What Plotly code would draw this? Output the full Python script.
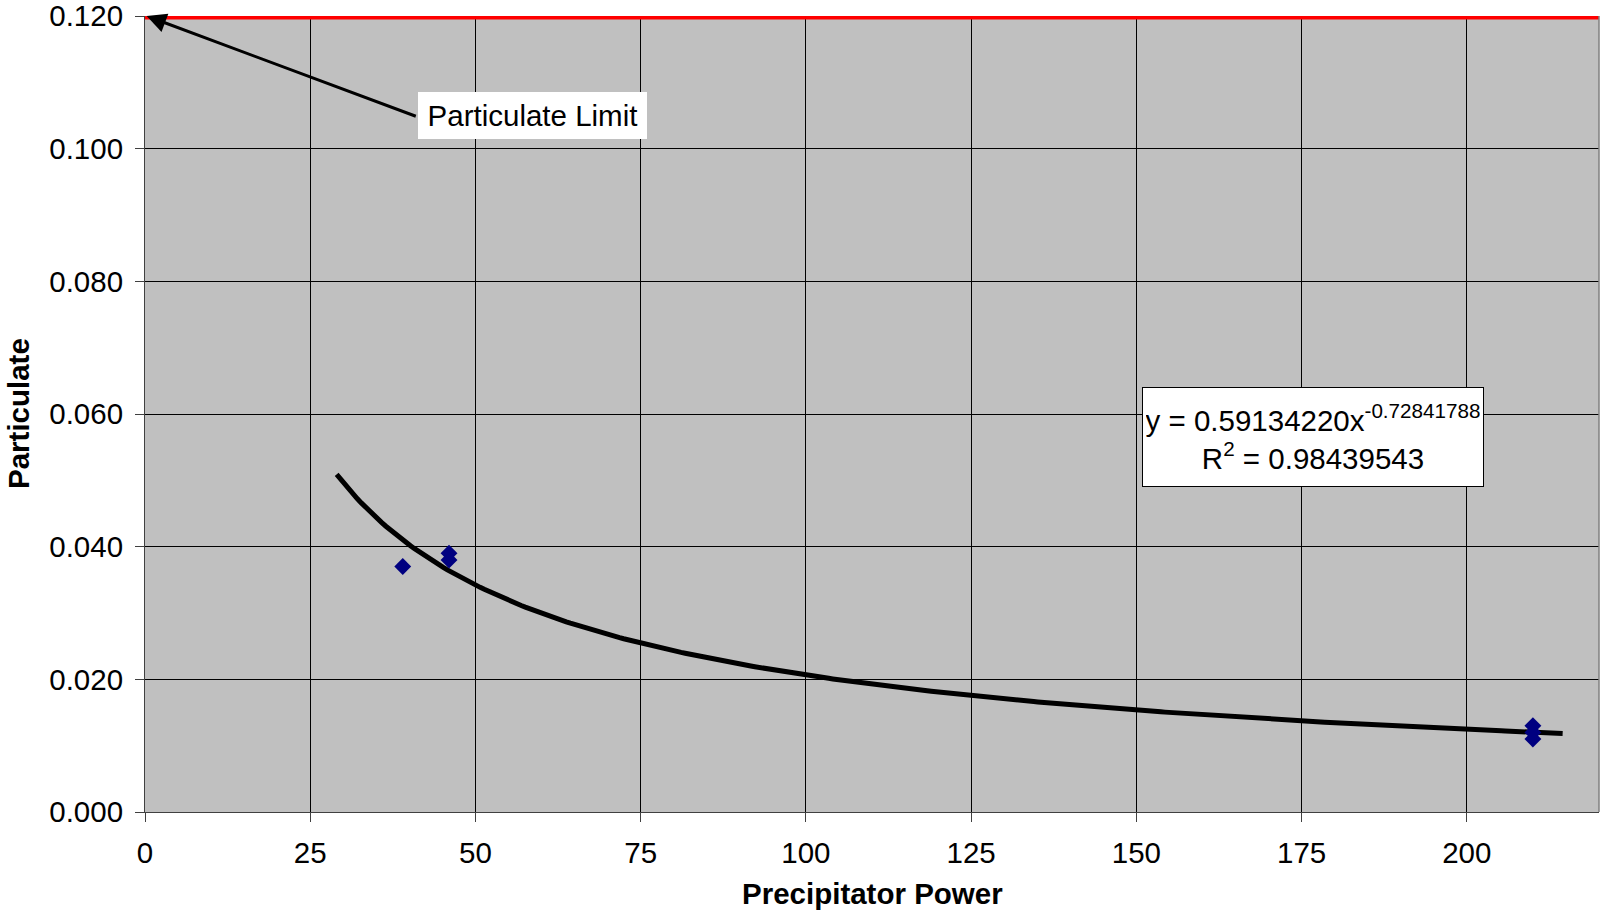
import numpy as np
import plotly.graph_objects as go

# Data
power = [39, 46, 46, 210, 210, 210]
particulate = [0.037, 0.039, 0.038, 0.013, 0.012, 0.011]

# Power-law trendline shown on the chart: y = a * x^b
trend_a = 0.59134220
trend_b = -0.72841788
trend_x_start = 29
trend_x_end = 214.5

limit_value = 0.120
x_ticks = [0, 25, 50, 75, 100, 125, 150, 175, 200]
y_ticks = [0.0, 0.02, 0.04, 0.06, 0.08, 0.10, 0.12]

FONT = "Liberation Sans, Arial, sans-serif"
FS = 29.5

tx = np.linspace(trend_x_start, trend_x_end, 300)
ty = trend_a * tx ** trend_b

fig = go.Figure()

fig.add_trace(go.Scatter(x=tx, y=ty, mode="lines",
                         line=dict(color="black", width=5),
                         hoverinfo="skip", showlegend=False))

fig.add_trace(go.Scatter(x=power, y=particulate, mode="markers",
                         marker=dict(symbol="diamond", size=13, color="#000080",
                                     line=dict(width=0)),
                         showlegend=False))

fig.add_trace(go.Scatter(x=[0, 220], y=[limit_value, limit_value], mode="lines",
                         line=dict(color="#FF0000", width=7),
                         hoverinfo="skip", showlegend=False))

# arrow only
fig.add_annotation(x=0.25, y=limit_value, ax=41.2, ay=0.1048,
                   xref="x", yref="y", axref="x", ayref="y",
                   text="", showarrow=True, arrowhead=2, arrowsize=1.3,
                   arrowwidth=3, arrowcolor="black", standoff=0)

# label box
fig.add_annotation(x=58.6, y=0.1050, xref="x", yref="y",
                   text="Particulate Limit", showarrow=False,
                   font=dict(family=FONT, size=FS, color="black"),
                   bgcolor="white", bordercolor="white", borderwidth=1,
                   width=221, height=39, borderpad=3,
                   xanchor="center", yanchor="middle")

# equation box
fig.add_annotation(x=176.75, y=0.0565, xref="x", yref="y",
                   text="y = 0.59134220x<sup>-0.72841788</sup><br>R<sup>2</sup> = 0.98439543",
                   showarrow=False, align="center",
                   font=dict(family=FONT, size=FS, color="black"),
                   bgcolor="white", bordercolor="black", borderwidth=1,
                   width=334, height=92, borderpad=3,
                   xanchor="center", yanchor="middle")

# axis titles
fig.add_annotation(x=(18 - 145) / 1454, y=0.5, xref="paper", yref="paper",
                   text="<b>Particulate</b>", textangle=-90, showarrow=False,
                   font=dict(family=FONT, size=FS, color="black"),
                   xanchor="center", yanchor="middle")
fig.add_annotation(x=0.5, y=(811.7 - 893) / 796, xref="paper", yref="paper",
                   text="<b>Precipitator Power</b>", showarrow=False,
                   font=dict(family=FONT, size=FS, color="black"),
                   xanchor="center", yanchor="middle")

# plot border on right
fig.add_shape(type="line", xref="paper", yref="paper", x0=1, x1=1, y0=0, y1=1,
              line=dict(color="#808080", width=1.5), layer="above")

fig.update_layout(
    width=1600, height=914,
    margin=dict(l=145, r=1, t=16, b=102, autoexpand=False),
    paper_bgcolor="white", plot_bgcolor="#C0C0C0",
    font=dict(family=FONT, size=FS, color="black"),
    showlegend=False,
)
fig.update_xaxes(range=[0, 220], tickvals=x_ticks, ticktext=[str(v) for v in x_ticks],
                 showgrid=True, gridcolor="#000000", gridwidth=1,
                 showline=True, linecolor="#404040", linewidth=1,
                 ticks="outside", ticklen=9, tickcolor="#404040",
                 ticklabelstandoff=6, zeroline=False, automargin=False,
                 ticklabeloverflow="allow",
                 tickfont=dict(family=FONT, size=FS, color="black"))
fig.update_yaxes(range=[0, 0.12], tickvals=y_ticks, tickformat=".3f",
                 showgrid=True, gridcolor="#000000", gridwidth=1,
                 showline=True, linecolor="#404040", linewidth=1,
                 ticks="outside", ticklen=9, tickcolor="#404040",
                 ticklabelstandoff=6, zeroline=False, automargin=False,
                 ticklabeloverflow="allow",
                 tickfont=dict(family=FONT, size=FS, color="black"))

# remove the default 8px page margin so the figure sits at the window origin
fig.write_html("out.html",
               config={"displayModeBar": False},
               post_script="document.body.style.margin='0px';document.body.style.overflow='hidden';")
